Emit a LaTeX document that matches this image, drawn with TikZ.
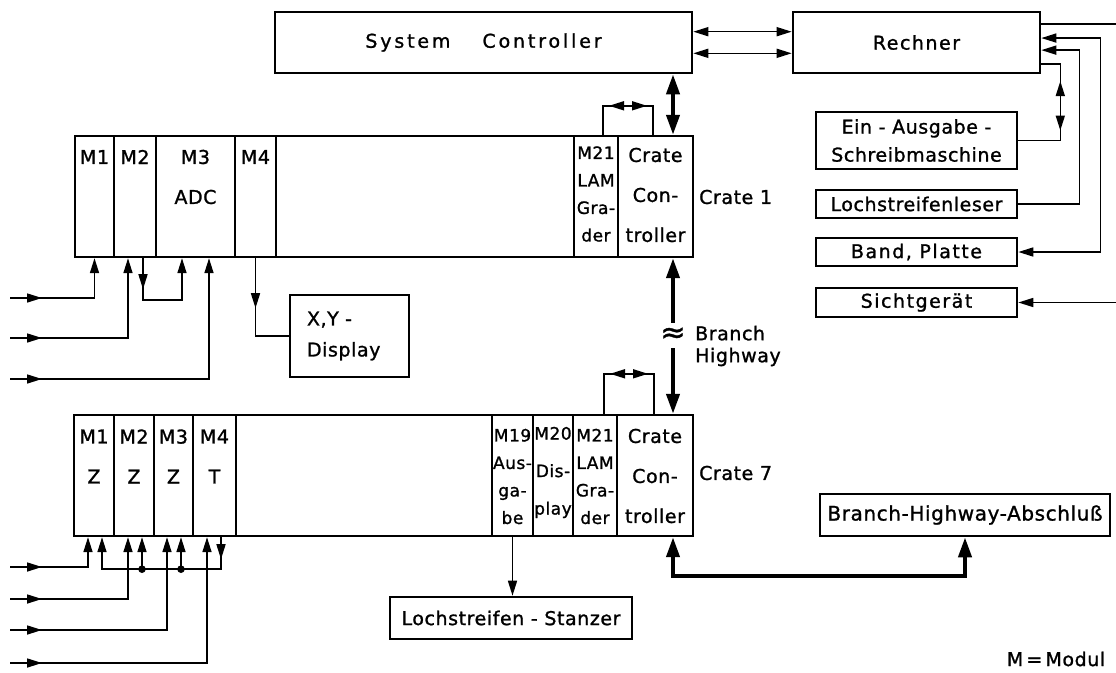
\documentclass[tikz,border=0pt]{standalone}
\usepackage{fontspec}
\setmainfont[LetterSpace=3,FakeBold=1.2]{DejaVu Sans}
\newfontfamily\spacedfont[LetterSpace=15,FakeBold=1.2]{DejaVu Sans}
\newfontfamily\midfont[LetterSpace=8,FakeBold=1.2]{DejaVu Sans}
\usetikzlibrary{arrows.meta,calc}
\begin{document}
\begin{tikzpicture}[x=1pt,y=-1pt,
  box/.style={draw,line width=2.6pt,inner sep=0pt,font=\fontsize{19}{23}\selectfont,align=center},
  mod/.style={draw,line width=2.4pt,inner sep=0pt,minimum height=121pt},
  lbl/.style={inner sep=0pt,font=\fontsize{19}{40}\selectfont,align=center},
  nlbl/.style={inner sep=0pt,font=\fontsize{17}{27.5}\selectfont,align=center},
  ln/.style={line width=1.6pt},
  arr/.style={-{Triangle[length=15pt,width=9pt]}},
  darr/.style={{Triangle[length=15pt,width=9pt]}-{Triangle[length=15pt,width=9pt]}},
  bus/.style={line width=4pt},
  barr/.style={{Triangle[length=20pt,width=13pt]}-{Triangle[length=20pt,width=13pt]}},
  barrs/.style={{Triangle[length=20pt,width=13pt]}-},
  barre/.style={-{Triangle[length=20pt,width=13pt]}}
]
\fill[white] (0,0) rectangle (1116,672);
\useasboundingbox (0,0) rectangle (1116,672);

% ---------- top boxes ----------
\node[box,minimum width=417pt,minimum height=61pt] (sc) at (483.5,42.5) {\spacedfont System\hspace{32pt}Controller};
\node[box,minimum width=247pt,minimum height=61pt] (rech) at (916.5,42.5) {\midfont Rechner};
\node[box,minimum width=201pt,minimum height=57pt,font=\fontsize{19}{28}\selectfont] (ea) at (916.5,140.5) {Ein - Ausgabe -\\Schreibmaschine};
\node[box,minimum width=201pt,minimum height=28pt] (lsl) at (916.5,204) {Lochstreifenleser};
\node[box,minimum width=201pt,minimum height=28pt] (bp) at (916.5,252) {\midfont Band, Platte};
\node[box,minimum width=201pt,minimum height=29pt] (sg) at (916.5,302.5) {\midfont Sichtgerät};
\node[box,minimum width=119pt,minimum height=82pt,align=left,font=\fontsize{19}{31}\selectfont,text width=85pt] (xy) at (349.5,336) {X,Y -\\Display};
\node[box,minimum width=242pt,minimum height=42pt] (stz) at (511,618) {Lochstreifen - Stanzer};
\node[box,minimum width=290pt,minimum height=42pt,font=\fontsize{20}{23}\selectfont] (bha) at (965,515) {Branch-Highway-Abschluß};

% ---------- crate 1 ----------
\node[mod,minimum width=618pt] (c1) at (384,196.5) {};
\node[mod,minimum width=39pt] (m1) at (94.5,196.5) {};
\node[mod,minimum width=42pt] (m2) at (135,196.5) {};
\node[mod,minimum width=79pt] (m3) at (195.5,196.5) {};
\node[mod,minimum width=41pt] (m4) at (255.5,196.5) {};
\node[mod,minimum width=44pt] (m21) at (596,196.5) {};
\node[mod,minimum width=75pt] (cc1) at (655.5,196.5) {};
\node[lbl] (l1) at (94.5,157) {M1};
\node[lbl] (l2) at (135,157) {M2};
\node[lbl] (l3) at (195.5,177) {M3\\ADC};
\node[lbl] (l4) at (255.5,157) {M4};
\node[nlbl] (l21) at (596,194) {M21\\LAM\\Gra-\\der};
\node[lbl] (lcc1) at (655.5,195) {Crate\\Con-\\troller};
\node[lbl,anchor=west] (lc1) at (699,197) {Crate 1};

% ---------- crate 7 ----------
\node[mod,minimum width=619pt] (c7) at (383.5,475.5) {};
\node[mod,minimum width=40pt] (n1) at (94,475.5) {};
\node[mod,minimum width=40pt] (n2) at (134,475.5) {};
\node[mod,minimum width=39pt] (n3) at (173.5,475.5) {};
\node[mod,minimum width=43pt] (n4) at (214.5,475.5) {};
\node[mod,minimum width=41pt] (n19) at (512.5,475.5) {};
\node[mod,minimum width=40pt] (n20) at (553,475.5) {};
\node[mod,minimum width=44pt] (n21) at (595,475.5) {};
\node[mod,minimum width=76pt] (cc7) at (655,475.5) {};
\node[lbl] (k1) at (94,456.5) {M1\\Z};
\node[lbl] (k2) at (134,456.5) {M2\\Z};
\node[lbl] (k3) at (173.5,456.5) {M3\\Z};
\node[lbl] (k4) at (214.5,456.5) {M4\\T};
\node[nlbl] (k19) at (512.5,476.5) {M19\\Aus-\\ga-\\be};
\node[nlbl,font=\fontsize{17}{37.5}\selectfont] (k20) at (553,472.5) {M20\\Dis-\\play};
\node[nlbl] (k21) at (595,476.5) {M21\\LAM\\Gra-\\der};
\node[lbl] (kcc7) at (655,476) {Crate\\Con-\\troller};
\node[lbl,anchor=west] (lc7) at (699,473) {Crate 7};

% ---------- SC <-> Rechner ----------
\draw[ln,darr] ($(sc.north east)!0.33!(sc.south east)$) -- ($(rech.north west)!0.33!(rech.south west)$);
\draw[ln,darr] ($(sc.north east)!0.67!(sc.south east)$) -- ($(rech.north west)!0.67!(rech.south west)$);

% ---------- SC <-> crate 1 ----------
\coordinate (t1) at ($(cc1.north)+(17.5,0)$);
\draw[bus,barr] (t1 |- sc.south) -- (t1);

% brackets above crate controllers
\coordinate (b1a) at ($(cc1.north)+(-52.5,0)$);
\coordinate (b1b) at ($(cc1.north)+(-2.5,0)$);
\draw[ln] (b1a) -- ++(0,-29) -| (b1b);
\draw[ln,darr] ($(b1a)+(6,-29)$) -- ($(b1b)+(-6,-29)$);
\coordinate (b7a) at ($(cc7.north)+(-51,0)$);
\coordinate (b7b) at ($(cc7.north)+(-1,0)$);
\draw[ln] (b7a) -- ++(0,-40) -| (b7b);
\draw[ln,darr] ($(b7a)+(6,-40)$) -- ($(b7b)+(-6,-40)$);

% ---------- branch highway ----------
\coordinate (t1b) at ($(cc1.south)+(17.5,0)$);
\coordinate (t7) at ($(cc7.north)+(18,0)$);
\node[inner sep=0pt,font=\fontsize{30}{30}\selectfont] (wave) at (673,335) {≈};
\coordinate (w1) at ($(wave.center)+(0,-12)$);
\coordinate (w2) at ($(wave.center)+(0,13)$);
\draw[bus,barrs] (t1b) -- (w1);
\draw[bus,barre] (w2) -- (t7);
\node[lbl,anchor=west,align=left,font=\fontsize{19}{22}\selectfont] (bh) at (695,346) {Branch\\Highway};

\coordinate (t7b) at ($(cc7.south)+(18,0)$);
\draw[bus,barr] (t7b) -- ++(0,39) -| (bha.south);

% ---------- Rechner right side ----------
\coordinate (edge) at (1116,0);
\coordinate (r1) at ($(rech.north east)!0.21!(rech.south east)$);
\coordinate (r2) at ($(rech.north east)!0.43!(rech.south east)$);
\coordinate (r3) at ($(rech.north east)!0.62!(rech.south east)$);
\coordinate (r4) at ($(rech.north east)!0.84!(rech.south east)$);
\draw[ln] (r1) -- (r1 -| edge);
\draw[ln,darr] (r2) -- ++(59,0) |- (bp.east);
\draw[ln,arr] (lsl.east) -- ++(61,0) |- (r3);
\coordinate (e1) at ($(r4)+(19,0)$);
\draw[ln] (r4) -- (e1) |- (ea.east);
\draw[ln,darr] ($(e1)+(0,17)$) -- ($(e1 |- ea.east)+(0,-10)$);
\draw[ln,arr] (sg.east -| edge) -- (sg.east);

% ---------- M4 -> X,Y display ----------
\draw[ln] (m4.south) |- (xy.west);
\draw[ln,arr] (m4.south) -- ++(0,50);

% ---------- crate 1 inputs ----------
\coordinate (i1) at (10,298);
\coordinate (i2) at (10,338);
\coordinate (i3) at (10,379);
\coordinate (m2in) at ($(m2.south)+(-7,0)$);
\coordinate (m2out) at ($(m2.south)+(8,0)$);
\coordinate (m3in1) at ($(m3.south)+(-13.5,0)$);
\coordinate (m3in2) at ($(m3.south)+(13.5,0)$);
\draw[ln,arr] (i1) -| (m1.south);
\draw[ln,arr] (i1) -- ++(32,0);
\draw[ln,arr] (i2) -| (m2in);
\draw[ln,arr] (i2) -- ++(32,0);
\draw[ln,arr] (i3) -| (m3in2);
\draw[ln,arr] (i3) -- ++(32,0);
\draw[ln,arr] (m2out) -- ++(0,42) -| (m3in1);
\draw[ln,arr] (m2out) -- ++(0,31);

% ---------- crate 7 inputs ----------
\coordinate (j1) at (10,567);
\coordinate (j2) at (10,599);
\coordinate (j3) at (10,630);
\coordinate (j4) at (10,663);
\coordinate (p1) at ($(n1.south)+(-6,0)$);
\coordinate (p2) at ($(n2.south)+(-6,0)$);
\coordinate (p3) at ($(n3.south)+(-6.5,0)$);
\coordinate (p4) at ($(n4.south)+(-7.5,0)$);
\draw[ln,arr] (j1) -| (p1);
\draw[ln,arr] (j1) -- ++(32,0);
\draw[ln,arr] (j2) -| (p2);
\draw[ln,arr] (j2) -- ++(32,0);
\draw[ln,arr] (j3) -| (p3);
\draw[ln,arr] (j3) -- ++(32,0);
\draw[ln,arr] (j4) -| (p4);
\draw[ln,arr] (j4) -- ++(32,0);

\coordinate (q1) at ($(n1.south)+(8,0)$);
\coordinate (q2) at ($(n2.south)+(8,0)$);
\coordinate (q3) at ($(n3.south)+(7.5,0)$);
\coordinate (q4) at ($(n4.south)+(6.5,0)$);
\coordinate (d2) at ($(q2)+(0,32)$);
\coordinate (d3) at ($(q3)+(0,32)$);
\draw[ln,arr] (q4) -- ++(0,32) -| (q1);
\draw[ln,arr] (q4) -- ++(0,22);
\draw[ln,arr] (d2) -- (q2);
\draw[ln,arr] (d3) -- (q3);
\fill (d2) circle (3.8pt);
\fill (d3) circle (3.8pt);

% ---------- M19 -> Stanzer ----------
\draw[ln,arr] (n19.south) -- (n19.south |- stz.north);

% legend
\node[lbl] (leg) at (1056,659) {M\,=\,Modul};
\end{tikzpicture}
\end{document}
